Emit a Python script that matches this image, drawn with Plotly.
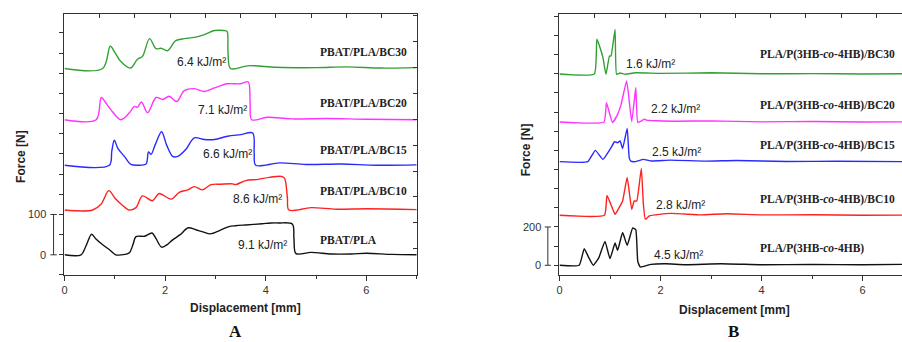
import plotly.graph_objects as go

# ---------------- Data ----------------
# Panel A: PBAT/PLA blends (force in N, displacement in mm)
A_NAMES = ["PBAT/PLA", "PBAT/PLA/BC10", "PBAT/PLA/BC15", "PBAT/PLA/BC20", "PBAT/PLA/BC30"]
A_ENERGY = ["9.1 kJ/m²", "8.6 kJ/m²", "6.6 kJ/m²", "7.1 kJ/m²", "6.4 kJ/m²"]
A_OFFSET = [0, 111, 222, 335, 462]

A_X0 = [0, 0.33, 0.42, 0.54, 0.62, 0.76, 0.9, 1.02, 1.2, 1.29, 1.36, 1.42, 1.59, 1.74, 1.82, 1.93, 2.05, 2.15,
        2.3, 2.46, 2.61, 2.75, 2.9, 3.08, 3.27, 3.4, 3.6, 3.93, 4.1, 4.27, 4.53, 4.56, 4.6, 4.9, 5.3, 5.7, 6.0, 6.5, 7.0]
A_F0 = [0, 0, 20, 51, 40, 25, 12, 0, 1, 5, 25, 45, 46, 54, 40, 19, 26, 37,
        50, 67, 62, 57, 52, 60, 70, 72, 74, 77, 79, 79, 76, 40, 3, 6, 2, 2, 4, 1, 0]

A_X1 = [0, 0.56, 0.73, 0.88, 1.0, 1.15, 1.28, 1.42, 1.55, 1.75, 1.88, 2.12, 2.28, 2.45, 2.58, 2.74, 2.91, 3.1,
        3.34, 3.4, 3.6, 3.85, 4.07, 4.33, 4.38, 4.43, 4.46, 4.9, 5.4, 6.0, 7.0]
A_F1 = [0, 0, 15, 48, 30, 12, 0, 6, 35, 23, 41, 27, 44, 50, 58, 50, 63, 64,
        65, 63, 73, 76, 81, 83, 77, 30, 0, 6, 2, 3, 1]

A_X2 = [0, 0.89, 0.94, 0.99, 1.06, 1.19, 1.32, 1.45, 1.62, 1.67, 1.72, 1.8, 1.93, 2.03, 2.15, 2.25, 2.41, 2.58,
        2.78, 2.98, 3.24, 3.5, 3.74, 3.77, 3.8, 4.27, 4.8, 5.5, 6.2, 7.0]
A_F2 = [0, 0, 35, 62, 42, 22, 2, 0, 3, 33, 27, 50, 83, 50, 22, 22, 39, 68,
        64, 64, 72, 76, 80, 30, 0, 6, 2, 3, 0, 1]

A_X3 = [0, 0.63, 0.73, 0.82, 0.92, 1.12, 1.29, 1.39, 1.45, 1.53, 1.65, 1.82, 1.95, 2.08, 2.23, 2.38, 2.58, 2.78,
        2.98, 3.24, 3.5, 3.65, 3.69, 3.72, 4.03, 4.5, 5.2, 6.0, 7.0]
A_F3 = [0, 0, 55, 42, 25, 0, 17, 33, 31, 44, 17, 55, 50, 58, 45, 72, 77, 70,
        79, 89, 89, 94, 40, 0, 6, 2, 3, 1, 0]

A_X4 = [0, 0.76, 0.91, 1.0, 1.12, 1.31, 1.45, 1.55, 1.69, 1.82, 1.92, 2.05, 2.21, 2.38, 2.58, 2.78, 2.98, 3.17,
        3.23, 3.25, 3.3, 3.67, 4.2, 5.0, 5.6, 6.3, 7.0]
A_F4 = [0, 0, 55, 40, 17, 1, 23, 30, 74, 49, 50, 44, 69, 74, 77, 84, 94, 94,
        92, 40, 0, 7, 3, 2, 4, 1, 2]

# Panel B: PLA/P(3HB-co-4HB) blends
B_NAMES = ["PLA/P(3HB-<i>co</i>-4HB)", "PLA/P(3HB-<i>co</i>-4HB)/BC10", "PLA/P(3HB-<i>co</i>-4HB)/BC15",
           "PLA/P(3HB-<i>co</i>-4HB)/BC20", "PLA/P(3HB-<i>co</i>-4HB)/BC30"]
B_ENERGY = ["4.5 kJ/m²", "2.8 kJ/m²", "2.5 kJ/m²", "2.2 kJ/m²", "1.6 kJ/m²"]
B_OFFSET = [0, 261, 541, 748, 999]

B_X0 = [0, 0.39, 0.49, 0.58, 0.67, 0.78, 0.9, 1.0, 1.1, 1.15, 1.25, 1.34, 1.45, 1.51, 1.55, 1.6, 1.81, 2.1,
        2.5, 3.2, 4.0, 5.0, 6.0, 6.8]
B_F0 = [0, 0, 87, 40, 0, 40, 125, 35, 116, 78, 171, 104, 195, 186, 20, -9, 5, 8,
        3, 8, 3, 4, 3, 5]

B_X1 = [0, 0.89, 0.94, 1.02, 1.1, 1.18, 1.25, 1.34, 1.43, 1.48, 1.53, 1.62, 1.66, 1.7, 1.78, 2.2, 2.8, 3.3,
        4.0, 5.0, 6.0, 6.8]
B_F1 = [0, 0, 104, 55, 5, 40, 75, 197, 31, 75, 75, 245, 60, -21, -3, 10, 2, 8,
        2, 3, 0, 1]

B_X2 = [0, 0.56, 0.71, 0.86, 1.02, 1.09, 1.15, 1.2, 1.25, 1.34, 1.38, 1.41, 1.5, 1.66, 1.8, 2.2, 2.9, 3.5,
        4.5, 5.5, 6.8]
B_F2 = [0, 0, 59, 12, 73, 104, 99, 108, 69, 174, 21, 3, 0, 12, 4, 8, 3, 6,
        1, 2, 0]

B_X3 = [0, 0.88, 0.93, 1.05, 1.15, 1.22, 1.33, 1.43, 1.51, 1.55, 1.62, 1.68, 1.72, 1.8, 2.3, 3.0, 4.0, 5.0,
        6.0, 6.8]
B_F3 = [0, 0, 101, -3, 40, 92, 214, 2, 180, -3, 5, 15, 10, 8, 4, 6, 1, 3,
        0, 1]

B_X4 = [0, 0.69, 0.74, 0.8, 0.86, 0.92, 0.99, 1.02, 1.1, 1.13, 1.2, 1.3, 1.5, 2.0, 3.0, 4.0, 5.0, 6.0, 6.8]
B_F4 = [0, 0, 181, 140, 86, -2, 94, 94, 233, -2, 5, -2, 6, 3, 6, 1, 2, 0, 1]

COLORS = ["#111111", "#ff2020", "#2a2aff", "#ff33ff", "#33a033"]

# Label positions (data coordinates) for energy values and sample names
A_ENERGY_X = [3.40, 3.30, 2.72, 2.62, 2.19]
A_ENERGY_Y = [25, 138, 251, 360, 477]
A_NAME_X = 5.03
A_NAME_Y = [36, 157, 261, 376, 502]

B_ENERGY_X = [1.84, 1.87, 1.79, 1.78, 1.28]
B_ENERGY_Y = [52, 317, 592, 815, 1050]
B_NAME_X = 3.92
B_NAME_Y = [87, 343, 623, 836, 1102]

A_SCALE = [0, 100]
B_SCALE = [0, 200]

A_XS = [A_X0, A_X1, A_X2, A_X3, A_X4]
A_FS = [A_F0, A_F1, A_F2, A_F3, A_F4]
B_XS = [B_X0, B_X1, B_X2, B_X3, B_X4]
B_FS = [B_F0, B_F1, B_F2, B_F3, B_F4]

# ---------------- Figure ----------------
fig = go.Figure()

for xs, fs, off, col in zip(A_XS, A_FS, A_OFFSET, COLORS):
    fig.add_trace(go.Scatter(x=xs, y=[f + off for f in fs], mode="lines",
                             line=dict(color=col, width=1.4, shape="spline", smoothing=0.9),
                             xaxis="x", yaxis="y", showlegend=False, hoverinfo="skip"))
for xs, fs, off, col in zip(B_XS, B_FS, B_OFFSET, COLORS):
    fig.add_trace(go.Scatter(x=xs, y=[f + off for f in fs], mode="lines",
                             line=dict(color=col, width=1.4, shape="spline", smoothing=0.4),
                             xaxis="x2", yaxis="y2", showlegend=False, hoverinfo="skip"))

# empty traces to realise the decorative mirror axes
fig.add_trace(go.Scatter(x=[], y=[], xaxis="x3", yaxis="y", showlegend=False))
fig.add_trace(go.Scatter(x=[], y=[], xaxis="x", yaxis="y3", showlegend=False))
fig.add_trace(go.Scatter(x=[], y=[], xaxis="x4", yaxis="y2", showlegend=False))

AX = "#333333"
TICKFONT = dict(family="Liberation Sans, Arial, sans-serif", size=11, color="#333333")
YDOM = [0.196, 0.959]
A_DOM = [0.0684, 0.4602]
B_DOM = [0.619, 1.0]

common_x = dict(showline=True, linecolor=AX, linewidth=1, ticks="outside", ticklen=5, tickcolor=AX,
                tickwidth=1, dtick=2, tick0=0, showgrid=False, zeroline=False, tickfont=TICKFONT,
                minor=dict(dtick=1, ticklen=3, ticks="outside", tickcolor=AX, showgrid=False))
fig.update_layout(
    width=902, height=342, margin=dict(l=0, r=0, t=0, b=0),
    paper_bgcolor="white", plot_bgcolor="white",
    xaxis=dict(domain=A_DOM, range=[0, 7], anchor="y", **common_x),
    xaxis2=dict(domain=B_DOM, range=[0, 6.78], anchor="y2", **common_x),
    yaxis=dict(domain=YDOM, range=[-50, 597], anchor="x", showline=True, linecolor=AX, linewidth=1,
               ticks="outside", ticklen=4, tickcolor=AX, dtick=50, tick0=0, showticklabels=False,
               showgrid=False, zeroline=False),
    yaxis2=dict(domain=YDOM, range=[-50.6, 1312], anchor="x2", showline=True, linecolor=AX, linewidth=1,
                ticks="outside", ticklen=4, tickcolor=AX, dtick=100, tick0=0, showticklabels=False,
                showgrid=False, zeroline=False),
    xaxis3=dict(overlaying="x", side="top", anchor="y", range=[0, 10], dtick=1, tick0=0, ticks="inside",
                ticklen=4, tickcolor=AX, showline=True, linecolor=AX, linewidth=1, showticklabels=False,
                showgrid=False, zeroline=False),
    yaxis3=dict(overlaying="y", side="right", anchor="x", range=[0, 10.04], dtick=1, tick0=0, ticks="inside",
                ticklen=4, tickcolor=AX, showline=True, linecolor=AX, linewidth=1, showticklabels=False,
                showgrid=False, zeroline=False),
    xaxis4=dict(overlaying="x2", side="top", anchor="y2", range=[0, 9.73], dtick=1, tick0=0, ticks="inside",
                ticklen=4, tickcolor=AX, showline=True, linecolor=AX, linewidth=1, showticklabels=False,
                showgrid=False, zeroline=False),
)

annotations = []
SANS = "Liberation Sans, Arial, sans-serif"
SERIF = "Liberation Serif, Times New Roman, serif"

for txt, x, y in zip(A_ENERGY, A_ENERGY_X, A_ENERGY_Y):
    annotations.append(dict(text=txt, x=x, y=y, xref="x", yref="y", xanchor="left", yanchor="middle",
                            showarrow=False, font=dict(family=SANS, size=12, color="#222222")))
for txt, y in zip(A_NAMES, A_NAME_Y):
    annotations.append(dict(text="<b>" + txt + "</b>", x=A_NAME_X, y=y, xref="x", yref="y", xanchor="left",
                            yanchor="middle", showarrow=False, font=dict(family=SERIF, size=11.5, color="#222222")))
for txt, x, y in zip(B_ENERGY, B_ENERGY_X, B_ENERGY_Y):
    annotations.append(dict(text=txt, x=x, y=y, xref="x2", yref="y2", xanchor="left", yanchor="middle",
                            showarrow=False, font=dict(family=SANS, size=12, color="#222222")))
for txt, y in zip(B_NAMES, B_NAME_Y):
    annotations.append(dict(text="<b>" + txt + "</b>", x=B_NAME_X, y=y, xref="x2", yref="y2", xanchor="left",
                            yanchor="middle", showarrow=False, font=dict(family=SERIF, size=11.5, color="#222222")))

# scale-bar labels
for v in A_SCALE:
    annotations.append(dict(text=str(v), x=-0.048, y=v, xref="x domain", yref="y", xanchor="right",
                            yanchor="middle", showarrow=False, font=TICKFONT))
for v in B_SCALE:
    annotations.append(dict(text=str(v), x=-0.048, y=v, xref="x2 domain", yref="y2", xanchor="right",
                            yanchor="middle", showarrow=False, font=TICKFONT))

# axis titles and panel letters
TITLEFONT = dict(family=SANS, size=12, color="#222222")
C = dict(xref="paper", yref="paper", xanchor="center", yanchor="middle", showarrow=False)
annotations += [
    dict(text="<b>Force [N]</b>", x=18 / 902, y=1 - 156 / 342, textangle=-90, font=TITLEFONT, **C),
    dict(text="<b>Force [N]</b>", x=525 / 902, y=1 - 150 / 342, textangle=-90, font=TITLEFONT, **C),
    dict(text="<b>Displacement [mm]</b>", x=243.5 / 902, y=1 - 308 / 342, font=TITLEFONT, **C),
    dict(text="<b>Displacement [mm]</b>", x=733.7 / 902, y=1 - 310 / 342, font=TITLEFONT, **C),
    dict(text="<b>A</b>", x=233 / 902, y=1 - 331 / 342, font=dict(family=SERIF, size=17, color="#111111"), **C),
    dict(text="<b>B</b>", x=733 / 902, y=1 - 331 / 342, font=dict(family=SERIF, size=17, color="#111111"), **C),
]
fig.update_layout(annotations=annotations)

# scale bars
shapes = []
for xref, yref, sc, bx in [("x domain", "y", A_SCALE, -0.031), ("x2 domain", "y2", B_SCALE, -0.034)]:
    shapes.append(dict(type="line", xref=xref, yref=yref, x0=bx, x1=bx, y0=sc[0], y1=sc[1],
                       line=dict(color=AX, width=1)))
    for v in sc:
        shapes.append(dict(type="line", xref=xref, yref=yref, x0=bx - 0.009, x1=bx + 0.009, y0=v, y1=v,
                           line=dict(color=AX, width=1)))
fig.update_layout(shapes=shapes)

fig.write_html("out.html")
